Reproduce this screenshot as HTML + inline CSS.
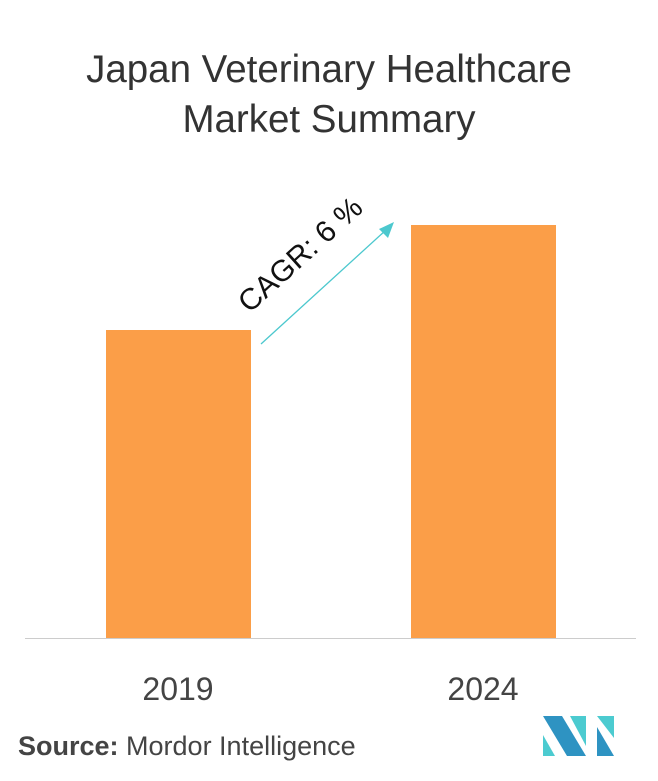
<!DOCTYPE html><html><head><style>
body{margin:0;width:658px;height:781px;background:#fff;font-family:"Liberation Sans",sans-serif;position:relative;overflow:hidden}
.t{position:absolute;left:0;width:658px;text-align:center;font-size:38.5px;color:#333;line-height:50px}
</style></head><body>
<div class="t" style="top:45px">Japan Veterinary Healthcare</div>
<div class="t" style="top:95px">Market Summary</div>
<svg width="658" height="781" style="position:absolute;left:0;top:0">
<rect x="106" y="330" width="145" height="308" fill="#FB9E48"/>
<rect x="411" y="225" width="145" height="413" fill="#FB9E48"/>
<line x1="25" y1="638.5" x2="636" y2="638.5" stroke="#ccc" stroke-width="1"/>
<line x1="261" y1="344" x2="386" y2="230" stroke="#4CC8CE" stroke-width="1.3"/>
<polygon points="394,222 379,229 388,238" fill="#4CC8CE"/>
<text x="307" y="262" transform="rotate(-42 307 262)" text-anchor="middle" font-size="30" fill="#111" font-family="Liberation Sans">CAGR: 6 %</text>
<text x="178" y="700" text-anchor="middle" font-size="32" fill="#444">2019</text>
<text x="483" y="700" text-anchor="middle" font-size="32" fill="#444">2024</text>
<text x="18" y="755" font-size="27" fill="#444"><tspan font-weight="bold">Source:</tspan> Mordor Intelligence</text>
<polygon points="543,716 562,716 586,756 567,756" fill="#2E93C2"/>
<polygon points="543,735 555,756 543,756" fill="#4CCBD0"/>
<polygon points="570,716 586,716 586,746" fill="#4CCBD0"/>
<polygon points="597,716 614,716 614,738" fill="#4CCBD0"/>
<polygon points="597,727 614,756 597,756" fill="#2E93C2"/>
</svg>
</body></html>
